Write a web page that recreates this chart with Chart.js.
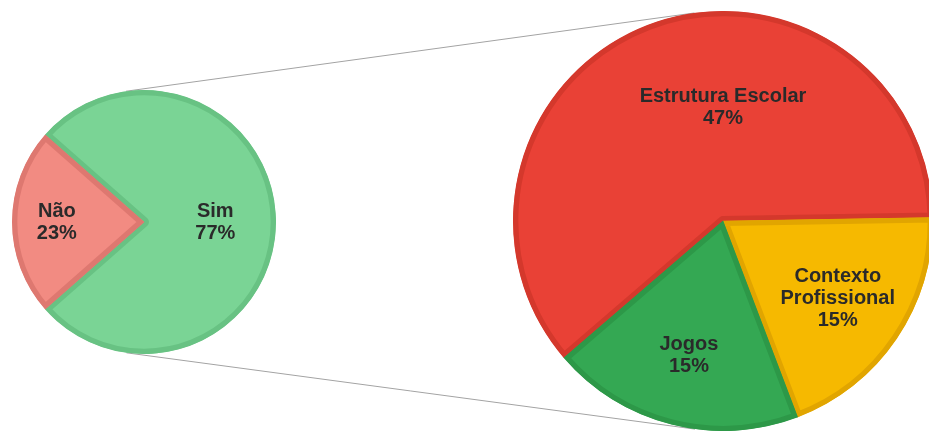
<!DOCTYPE html>
<html>
<head>
<meta charset="utf-8">
<script src="https://cdn.jsdelivr.net/npm/chart.js@4.4.1/dist/chart.umd.min.js"></script>
<style>
  html, body { margin: 0; padding: 0; width: 929px; height: 432px; overflow: hidden; background: #fff; }
  #lines { position: absolute; left: 0; top: 0; }
  .pie { position: absolute; }
  #left-box { left: 12px; top: 90px; width: 264px; height: 264px; }
  #right-box { left: 513px; top: 11px; width: 420px; height: 420px; }
</style>
</head>
<body>
<canvas id="lines" width="929" height="432"></canvas>
<div class="pie" id="left-box"><canvas id="leftChart"></canvas></div>
<div class="pie" id="right-box"><canvas id="rightChart"></canvas></div>
<script>
// ---------- Data ----------
const mainLabels = ["Sim", "Não"];
const mainValues = [77, 23];

const detailLabels = ["Estrutura Escolar", ["Contexto", "Profissional"], "Jogos"];
const detailValues = [47, 15, 15];

// ---------- Colours ----------
const mainFill = ["#7ad495", "#f28b82"];
const mainBorder = ["#68c283", "#de7870"];
const detailFill = ["#e94136", "#f6b900", "#34a853"];
const detailBorder = ["#d4382c", "#e1a500", "#2d9848"];

// --- Helpers ---

// draws "name / value%" inside each slice
const sliceLabels = {
  id: "sliceLabels",
  afterDatasetsDraw(chart) {
    const ctx = chart.ctx;
    const meta = chart.getDatasetMeta(0);
    const values = chart.data.datasets[0].data;
    ctx.save();
    ctx.font = 'bold 20px "Liberation Sans", Arial, sans-serif';
    ctx.fillStyle = "#2a2a2a";
    ctx.textAlign = "center";
    ctx.textBaseline = "middle";
    meta.data.forEach((arc, i) => {
      const { x, y, startAngle, endAngle, outerRadius } =
        arc.getProps(["x", "y", "startAngle", "endAngle", "outerRadius"], true);
      let mid = (startAngle + endAngle) / 2;
      let frac = 0.66;
      // big slices: put the label on the nearest axis, a bit closer in
      if (endAngle - startAngle > Math.PI) {
        mid = Math.round(mid / (Math.PI / 2)) * (Math.PI / 2);
        frac = 0.54;
      }
      const cx = x + Math.cos(mid) * outerRadius * frac;
      const cy = y + Math.sin(mid) * outerRadius * frac;
      const lines = [].concat(chart.data.labels[i], values[i] + "%");
      const lh = 22;
      lines.forEach((t, k) => {
        ctx.fillText(t, cx, cy + (k - (lines.length - 1) / 2) * lh);
      });
    });
    ctx.restore();
  }
};

function makePie(id, labels, values, fill, border, rotation) {
  return new Chart(document.getElementById(id), {
    type: "pie",
    data: {
      labels: labels,
      datasets: [{
        data: values,
        backgroundColor: fill,
        borderColor: border,
        borderWidth: 5,
        borderAlign: "inner",
        hoverOffset: 0,
        offset: 0
      }]
    },
    options: {
      responsive: true,
      maintainAspectRatio: false,
      animation: false,
      events: [],
      rotation: rotation,
      layout: { padding: 0 },
      plugins: {
        legend: { display: false },
        tooltip: { enabled: false }
      }
    },
    plugins: [sliceLabels]
  });
}

// gray lines joining the two pies (outer common tangents)
function drawLinks(left, right) {
  const a = left.getDatasetMeta(0).data[0];
  const b = right.getDatasetMeta(0).data[0];
  const ra = left.canvas.getBoundingClientRect();
  const rb = right.canvas.getBoundingClientRect();
  const x1 = ra.left + a.x, y1 = ra.top + a.y, r1 = a.outerRadius;
  const x2 = rb.left + b.x, y2 = rb.top + b.y, r2 = b.outerRadius;
  const phi = Math.atan2(y2 - y1, x2 - x1);
  const d = Math.hypot(x2 - x1, y2 - y1);
  const t = Math.acos((r1 - r2) / d);

  const ctx = document.getElementById("lines").getContext("2d");
  ctx.strokeStyle = "#a3a3a3";
  ctx.lineWidth = 1;
  [phi - t, phi + t].forEach(th => {
    ctx.beginPath();
    ctx.moveTo(x1 + r1 * Math.cos(th), y1 + r1 * Math.sin(th));
    ctx.lineTo(x2 + r2 * Math.cos(th), y2 + r2 * Math.sin(th));
    ctx.stroke();
  });
}

// ---------- Build ----------
const leftChart = makePie("leftChart", mainLabels, mainValues, mainFill, mainBorder, 311.4);
const rightChart = makePie("rightChart", detailLabels, detailValues, detailFill, detailBorder, 229.3);
drawLinks(leftChart, rightChart);
</script>
</body>
</html>
